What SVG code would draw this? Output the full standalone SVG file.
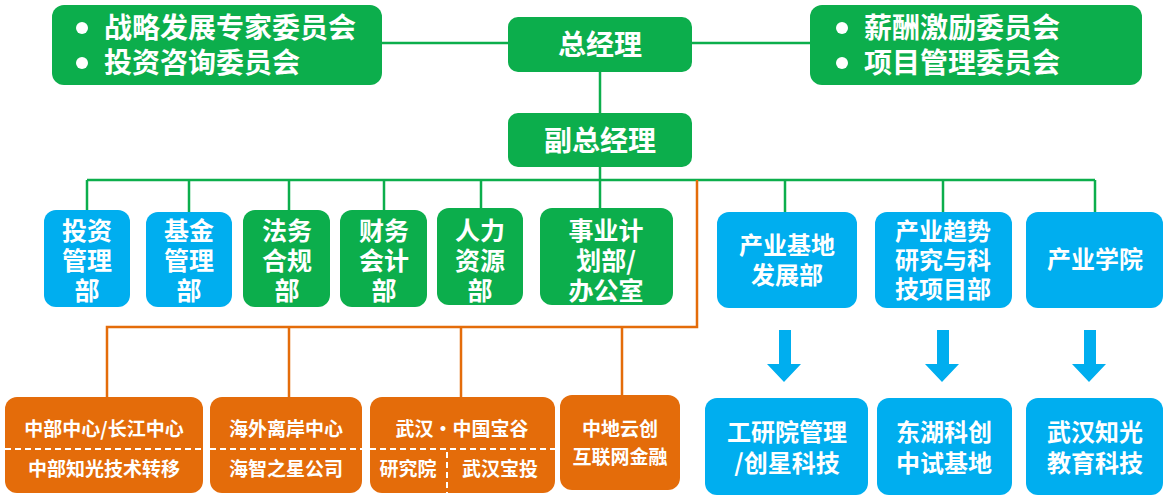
<svg xmlns="http://www.w3.org/2000/svg" width="1165" height="500" viewBox="0 0 1165 500">
<style>
text{font-family:"Noto Sans CJK SC","Noto Sans",sans-serif;font-weight:bold;fill:#fff;text-anchor:middle}
.g{fill:#0CAE4C}.b{fill:#00AEEF}.o{fill:#E46C0A}
.gl{stroke:#0CAE4C;stroke-width:2.5;fill:none}
.ol{stroke:#E46C0A;stroke-width:2.5;fill:none}
.dash{stroke:#fff;stroke-width:2;stroke-dasharray:6 4}
.t0{font-size:28px}.t1{font-size:25px}.t2{font-size:24px}.t3{font-size:19px}.s{text-anchor:start}
</style>
<g id="connectors">
<path class="gl" d="M382 43H508M692 43H810M600 72V113M600 167V180M87 180H1095M87 180V210M189 180V212M289 180V210M384 180V210M481 180V208M600 180V208M785 180V212M943 180V212M1095 180V212"/>
<path class="ol" d="M697 180V327H107V397M289 327V397M461 327V397M622 327V395"/>
<g fill="#00AEEF">
<path d="M779 330h12v34h10l-17 18l-17-18h12z"/>
<path d="M937 330h12v34h10l-17 18l-17-18h12z"/>
<path d="M1084 330h12v34h10l-17 18l-17-18h12z"/>
</g>
</g>
<g id="n-left"><rect class="g" x="52" y="5" width="330" height="80" rx="12"/>
<circle cx="82" cy="28" r="6" fill="#fff"/><circle cx="82" cy="63" r="6" fill="#fff"/>
<text class="t0 s" x="104" y="38">战略发展专家委员会</text>
<text class="t0 s" x="104" y="73">投资咨询委员会</text></g>
<g id="n-gm"><rect class="g" x="508" y="17" width="184" height="55" rx="10"/><text class="t0" x="600" y="55">总经理</text></g>
<g id="n-right"><rect class="g" x="810" y="5" width="332" height="80" rx="12"/>
<circle cx="842" cy="28" r="6" fill="#fff"/><circle cx="842" cy="63" r="6" fill="#fff"/>
<text class="t0 s" x="864" y="38">薪酬激励委员会</text>
<text class="t0 s" x="864" y="73">项目管理委员会</text></g>
<g id="n-vgm"><rect class="g" x="508" y="113" width="184" height="54" rx="10"/><text class="t0" x="600" y="151">副总经理</text></g>
<g id="n1"><rect class="b" x="44" y="210" width="86" height="97" rx="12"/><text class="t1" x="87" y="240">投资</text><text class="t1" x="87" y="270">管理</text><text class="t1" x="87" y="300">部</text></g>
<g id="n2"><rect class="b" x="146" y="212" width="86" height="95" rx="12"/><text class="t1" x="189" y="240">基金</text><text class="t1" x="189" y="270">管理</text><text class="t1" x="189" y="300">部</text></g>
<g id="n3"><rect class="g" x="243" y="210" width="87" height="97" rx="12"/><text class="t1" x="287" y="240">法务</text><text class="t1" x="287" y="270">合规</text><text class="t1" x="287" y="300">部</text></g>
<g id="n4"><rect class="g" x="340" y="210" width="87" height="97" rx="12"/><text class="t1" x="384" y="240">财务</text><text class="t1" x="384" y="270">会计</text><text class="t1" x="384" y="300">部</text></g>
<g id="n5"><rect class="g" x="437" y="208" width="86" height="97" rx="12"/><text class="t1" x="480" y="240">人力</text><text class="t1" x="480" y="270">资源</text><text class="t1" x="480" y="300">部</text></g>
<g id="n6"><rect class="g" x="540" y="208" width="133" height="97" rx="12"/><text class="t1" x="606" y="240">事业计</text><text class="t1" x="606" y="270">划部/</text><text class="t1" x="606" y="300">办公室</text></g>
<g id="n7"><rect class="b" x="717" y="212" width="140" height="96" rx="12"/><text class="t2" x="787" y="254">产业基地</text><text class="t2" x="787" y="284">发展部</text></g>
<g id="n8"><rect class="b" x="875" y="212" width="137" height="96" rx="12"/><text class="t2" x="943" y="240">产业趋势</text><text class="t2" x="943" y="269">研究与科</text><text class="t2" x="943" y="298">技项目部</text></g>
<g id="n9"><rect class="b" x="1026" y="212" width="137" height="96" rx="12"/><text class="t2" x="1095" y="268">产业学院</text></g>
<g id="n10"><rect class="b" x="705" y="398" width="163" height="97" rx="12"/><text class="t2" x="787" y="441">工研院管理</text><text class="t2" x="787" y="472">/创星科技</text></g>
<g id="n11"><rect class="b" x="877" y="398" width="135" height="97" rx="12"/><text class="t2" x="944" y="441">东湖科创</text><text class="t2" x="944" y="472">中试基地</text></g>
<g id="n12"><rect class="b" x="1026" y="398" width="137" height="97" rx="12"/><text class="t2" x="1095" y="441">武汉知光</text><text class="t2" x="1095" y="472">教育科技</text></g>
<g id="n13"><rect class="o" x="5" y="397" width="198" height="96" rx="12"/><text class="t3" x="104" y="436">中部中心/长江中心</text><line class="dash" x1="5" y1="449" x2="203" y2="449"/><text class="t3" x="104" y="476">中部知光技术转移</text></g>
<g id="n14"><rect class="o" x="210" y="397" width="152" height="96" rx="12"/><text class="t3" x="286" y="436">海外离岸中心</text><line class="dash" x1="210" y1="449" x2="362" y2="449"/><text class="t3" x="286" y="476">海智之星公司</text></g>
<g id="n15"><rect class="o" x="370" y="397" width="185" height="96" rx="12"/><text class="t3" x="462" y="436">武汉•中国宝谷</text><line class="dash" x1="370" y1="449" x2="555" y2="449"/><line class="dash" x1="447" y1="452" x2="447" y2="493"/><text class="t3" x="408" y="476">研究院</text><text class="t3" x="500" y="476">武汉宝投</text></g>
<g id="n16"><rect class="o" x="560" y="395" width="120" height="95" rx="12"/><text class="t3" x="620" y="436">中地云创</text><text class="t3" x="620" y="464">互联网金融</text></g>
</svg>
